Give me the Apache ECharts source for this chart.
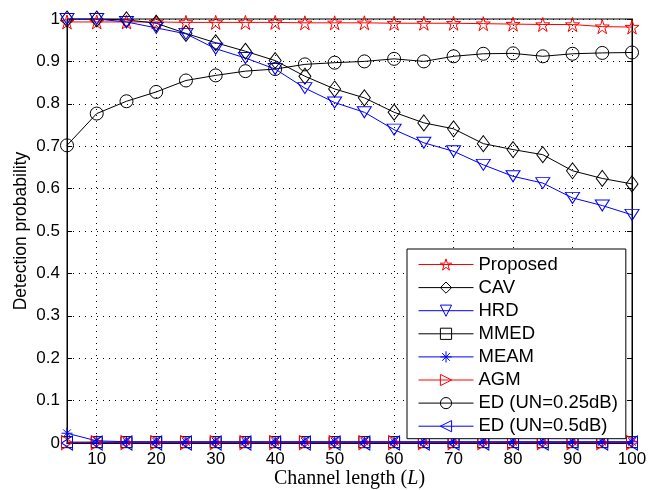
<!DOCTYPE html>
<html>
<head>
    <meta charset="UTF-8">
    <title>Detection probability vs channel length</title>
    <script src="https://cdn.jsdelivr.net/npm/echarts@6/dist/echarts.min.js"></script>
    <style>
        body { margin: 0; background: #fff; }
        #chart { width: 648px; height: 490px; }
    </style>
</head>
<body>
    <div id="chart"></div>
    <script>
        // channel length L
        var channelLength = [5, 10, 15, 20, 25, 30, 35, 40, 45, 50, 55, 60, 65, 70, 75, 80, 85, 90, 95, 100];
        var xTicks = [10, 20, 30, 40, 50, 60, 70, 80, 90, 100];

        var proposed = [0.993, 0.993, 0.993, 0.993, 0.992, 0.992, 0.992, 0.992, 0.991, 0.991, 0.991, 0.990, 0.990, 0.990, 0.989, 0.988, 0.987, 0.987, 0.982, 0.981];
        var cav      = [1.000, 1.000, 0.998, 0.990, 0.966, 0.944, 0.924, 0.902, 0.865, 0.835, 0.814, 0.780, 0.755, 0.741, 0.706, 0.692, 0.680, 0.642, 0.624, 0.611];
        var hrd      = [1.000, 1.000, 0.993, 0.979, 0.965, 0.930, 0.908, 0.882, 0.837, 0.803, 0.780, 0.739, 0.708, 0.688, 0.656, 0.629, 0.613, 0.578, 0.560, 0.538];
        var mmed     = [0.002, 0.002, 0.002, 0.002, 0.002, 0.002, 0.002, 0.002, 0.002, 0.002, 0.002, 0.002, 0.002, 0.002, 0.002, 0.002, 0.002, 0.002, 0.002, 0.002];
        var meam     = [0.023, 0.005, 0.003, 0.003, 0.003, 0.003, 0.003, 0.003, 0.003, 0.003, 0.003, 0.003, 0.003, 0.003, 0.003, 0.003, 0.003, 0.003, 0.003, 0.003];
        var agm      = [0.001, 0.001, 0.001, 0.001, 0.001, 0.001, 0.001, 0.001, 0.001, 0.001, 0.001, 0.001, 0.001, 0.001, 0.001, 0.001, 0.001, 0.001, 0.001, 0.001];
        var ed025    = [0.702, 0.777, 0.806, 0.828, 0.855, 0.867, 0.877, 0.882, 0.893, 0.897, 0.900, 0.906, 0.900, 0.912, 0.918, 0.919, 0.912, 0.918, 0.920, 0.921];
        var ed05     = [0.000, 0.000, 0.000, 0.000, 0.000, 0.000, 0.000, 0.000, 0.000, 0.000, 0.000, 0.000, 0.000, 0.000, 0.000, 0.000, 0.000, 0.000, 0.000, 0.000];

        var names  = ['Proposed', 'CAV', 'HRD', 'MMED', 'MEAM', 'AGM', 'ED (UN=0.25dB)', 'ED (UN=0.5dB)'];
        var colors = ['#ff0000', '#000000', '#0000ff', '#000000', '#0000ff', '#ff0000', '#000000', '#0000ff'];

        var STAR = 'path://M0,-100L22,-31L95,-31L36,12L59,81L0,38L-59,81L-36,12L-95,-31L-22,-31Z';
        var ASTER = 'path://M0,-100L0,100M-100,0L100,0M-70,-70L70,70M-70,70L70,-70';

        function pairs(ys) {
            return channelLength.map(function (x, i) { return [x, ys[i]]; });
        }

        function mk(i, ys, symbol, size, rotate) {
            return {
                name: names[i],
                type: 'line',
                data: pairs(ys),
                symbol: symbol,
                symbolSize: size,
                symbolRotate: rotate || 0,
                showAllSymbol: true,
                animation: false,
                lineStyle: { color: colors[i], width: 1 },
                itemStyle: { color: 'rgba(255,255,255,0)', borderColor: colors[i], borderWidth: 1 },
                emphasis: { disabled: true }
            };
        }

        var font = '"Liberation Sans", Arial, Helvetica, sans-serif';
        var serif = '"Liberation Serif", "Times New Roman", serif';
        var chart = echarts.init(document.getElementById('chart'), null, { renderer: 'canvas' });

        chart.setOption({
            backgroundColor: '#fff',
            animation: false,
            grid: {
                left: 67, right: 16, top: 19, bottom: 47,
                outerBoundsMode: 'none',
                show: true, borderColor: '#000', borderWidth: 1, backgroundColor: 'transparent'
            },
            legend: {
                orient: 'vertical',
                left: 407,
                top: 249,
                padding: [6, 8, 3, 11],
                itemWidth: 55,
                itemHeight: 14,
                itemGap: 4.1,
                backgroundColor: '#fff',
                borderColor: '#000',
                borderWidth: 1,
                borderRadius: 0,
                lineStyle: { width: 1 },
                textStyle: { fontFamily: font, fontSize: 18.5, color: '#000', lineHeight: 18 },
                data: names.map(function (n, i) {
                    return { name: n, itemStyle: { color: 'rgba(255,255,255,0)', borderColor: colors[i], borderWidth: 1 } };
                })
            },
            xAxis: [{
                type: 'value',
                min: 5,
                max: 100,
                name: '{n|Channel length (}{i|L}{n|)}',
                nameLocation: 'middle',
                nameGap: 26,
                nameMoveOverlap: false,
                nameTextStyle: {
                    rich: {
                        n: { fontFamily: serif, fontSize: 20, color: '#000' },
                        i: { fontFamily: serif, fontSize: 20, fontStyle: 'italic', color: '#000' }
                    }
                },
                axisLine: { lineStyle: { color: '#000', width: 1 } },
                axisTick: { inside: true, length: 5, customValues: xTicks, lineStyle: { color: '#000' } },
                axisLabel: { customValues: xTicks, fontFamily: font, fontSize: 17, color: '#000', margin: 8 },
                splitLine: { show: true, lineStyle: { color: '#000', width: 1, type: [1, 5] } }
            }, {
                type: 'value',
                position: 'top',
                min: 5,
                max: 100,
                axisLine: { lineStyle: { color: '#000', width: 1 } },
                axisTick: { inside: true, length: 5, customValues: xTicks, lineStyle: { color: '#000' } },
                axisLabel: { show: false },
                splitLine: { show: false }
            }],
            yAxis: [{
                type: 'value',
                min: 0,
                max: 1,
                interval: 0.1,
                name: 'Detection probability',
                nameLocation: 'middle',
                nameGap: 37,
                nameMoveOverlap: false,
                nameTextStyle: { fontFamily: font, fontSize: 17.5, color: '#000' },
                axisLine: { show: true, lineStyle: { color: '#000', width: 1 } },
                axisTick: { show: true, inside: true, length: 5, lineStyle: { color: '#000' } },
                axisLabel: { fontFamily: font, fontSize: 17, color: '#000', margin: 7 },
                splitLine: { show: true, lineStyle: { color: '#000', width: 1, type: [1, 5] } }
            }, {
                type: 'value',
                position: 'right',
                min: 0,
                max: 1,
                interval: 0.1,
                axisLine: { show: true, lineStyle: { color: '#000', width: 1 } },
                axisTick: { show: true, inside: true, length: 5, lineStyle: { color: '#000' } },
                axisLabel: { show: false },
                splitLine: { show: false }
            }],
            series: [
                mk(0, proposed, STAR, 14),
                mk(1, cav, 'diamond', [12, 16]),
                mk(2, hrd, 'triangle', [14, 11], 180),
                mk(3, mmed, 'rect', 11),
                mk(4, meam, ASTER, 11),
                mk(5, agm, 'triangle', [14, 11], -90),
                mk(6, ed025, 'circle', 13),
                mk(7, ed05, 'triangle', [14, 11], 90)
            ]
        });
    </script>
</body>
</html>
